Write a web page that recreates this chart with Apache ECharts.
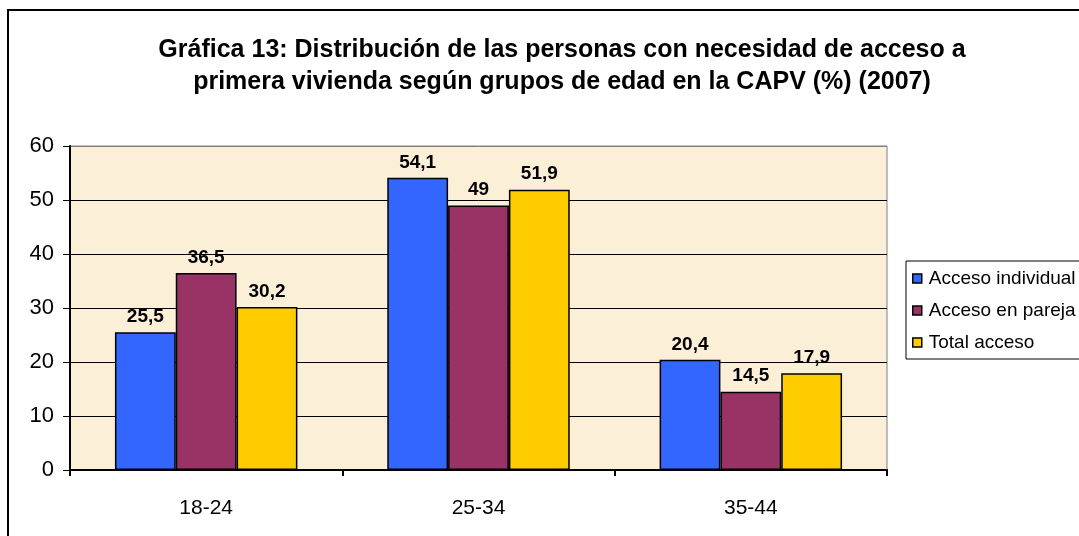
<!DOCTYPE html>
<html><head><meta charset="utf-8">
<script src="https://cdn.jsdelivr.net/npm/echarts@6/dist/echarts.min.js"></script>
<style>html,body{margin:0;padding:0;background:#fff}#c{width:1079px;height:536px}</style>
</head><body><div id="c"></div>
<script>
const categories = ['18-24', '25-34', '35-44'];
const seriesNames = ['Acceso individual', 'Acceso en pareja', 'Total acceso'];
const accesoIndividual = [25.5, 54.1, 20.4];
const accesoPareja = [36.5, 49, 14.5];
const totalAcceso = [30.2, 51.9, 17.9];
const yTicks = [0, 10, 20, 30, 40, 50, 60];
const colors = ['#3366FF', '#993366', '#FFCC00'];
const seriesData = [accesoIndividual, accesoPareja, totalAcceso];

const chart = echarts.init(document.getElementById('c'));
const fmt = v => String(v).replace('.', ',');
const FF = 'Liberation Sans, Arial, sans-serif';
chart.setOption({
  animation: false,
  textStyle: { fontFamily: FF },
  title: {
    text: 'Gráfica 13: Distribución de las personas con necesidad de acceso a\nprimera vivienda según grupos de edad en la CAPV (%) (2007)',
    left: 557, top: 29, textAlign: 'center',
    textStyle: { fontSize: 25, fontWeight: 'bold', color: '#000', lineHeight: 32, fontFamily: FF }
  },
  graphic: [{
    type: 'rect', shape: { x: 8, y: 10, width: 1200, height: 700 },
    style: { fill: 'none', stroke: '#000', lineWidth: 2 }, z: 100
  }],
  legend: {
    orient: 'vertical', left: 906, top: 261,
    data: seriesNames,
    icon: 'rect', itemWidth: 9, itemHeight: 9, itemGap: 13,
    padding: [8, 40, 7, 6],
    borderColor: '#000', borderWidth: 1, backgroundColor: '#fff',
    itemStyle: { borderColor: '#000', borderWidth: 1.5 },
    textStyle: { fontSize: 19, color: '#000', padding: [0, 0, 0, 2], fontFamily: FF }
  },
  grid: {
    left: 70, right: 192, top: 146, bottom: 66,
    show: true, backgroundColor: '#FCEFD7', borderColor: '#808080', borderWidth: 1
  },
  xAxis: {
    type: 'category', data: categories,
    axisLine: { lineStyle: { color: '#000', width: 2 } },
    axisTick: { show: true, length: 6, lineStyle: { color: '#000', width: 2 } },
    axisLabel: { fontSize: 21, color: '#000', margin: 28 }
  },
  yAxis: {
    type: 'value', min: 0, max: 60, interval: 10,
    axisLine: { show: true, lineStyle: { color: '#000', width: 2 } },
    axisTick: { show: true, inside: false, length: 7, lineStyle: { color: '#000', width: 1 } },
    axisLabel: { fontSize: 22, color: '#000', margin: 16, formatter: v => yTicks.includes(v) ? String(v) : '' },
    splitLine: { show: true, lineStyle: { color: ['#000','#000','#000','#000','#000','#000','#808080'], width: 1 } }
  },
  series: seriesNames.map((name, i) => ({
    name, type: 'bar', data: seriesData[i],
    barGap: '0%', barCategoryGap: '33%',
    itemStyle: { color: colors[i], borderColor: '#000', borderWidth: 1.5 },
    label: { show: true, position: 'top', distance: 6, fontSize: 19, fontWeight: 'bold', color: '#000', fontFamily: FF, formatter: p => fmt(p.value) }
  }))
});
</script></body></html>
